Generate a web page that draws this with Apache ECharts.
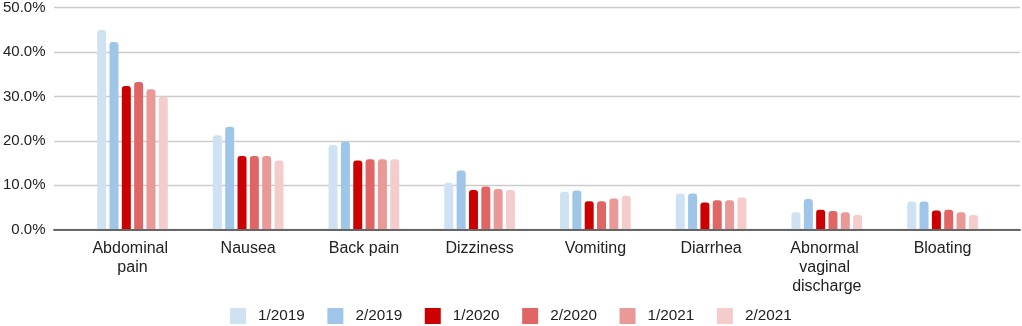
<!DOCTYPE html>
<html>
<head>
<meta charset="utf-8">
<script src="https://cdn.jsdelivr.net/npm/echarts@6/dist/echarts.min.js"></script>
<style>
html,body{margin:0;padding:0;background:#fff;}
#chart{width:1022px;height:326px;}
</style>
</head>
<body>
<div id="chart"></div>
<script>
const categories = ["Abdominal pain", "Nausea", "Back pain", "Dizziness", "Vomiting", "Diarrhea", "Abnormal vaginal discharge", "Bloating"];
const seriesNames = ["1/2019", "2/2019", "1/2020", "2/2020", "1/2021", "2/2021"];
const s2019_1 = [44.8, 21.2, 19.0, 10.5, 8.5, 8.1, 3.9, 6.3];
const s2019_2 = [42.1, 23.1, 19.7, 13.3, 8.8, 8.1, 6.9, 6.3];
const s2020_1 = [32.2, 16.5, 15.5, 8.9, 6.4, 6.1, 4.5, 4.3];
const s2020_2 = [33.1, 16.5, 15.8, 9.7, 6.4, 6.6, 4.2, 4.5];
const s2021_1 = [31.5, 16.5, 15.8, 9.1, 7.0, 6.6, 3.9, 3.9];
const s2021_2 = [29.8, 15.5, 15.8, 8.9, 7.6, 7.2, 3.3, 3.3];
const yTicks = [0, 10, 20, 30, 40, 50];
const colors = ["#cfe2f3", "#9fc5e8", "#cc0000", "#e06666", "#ea9999", "#f4cccc"];

const allSeries = [s2019_1, s2019_2, s2020_1, s2020_2, s2021_1, s2021_2];
const chart = echarts.init(document.getElementById('chart'), null, {renderer: 'canvas'});
const font = 'Liberation Sans, Arial, sans-serif';

chart.setOption({
  animation: false,
  color: colors,
  textStyle: {fontFamily: font},
  grid: [
    {left: 53.5, right: 2, top: 6.7, bottom: 96.3},
    {left: 74.6, right: 21.6, top: 6.7, bottom: 96.3}
  ],
  xAxis: [
    {gridIndex: 0, type: 'value', min: 0, max: 1,
     axisLine: {show: true, lineStyle: {color: '#666', width: 2}},
     axisTick: {show: false}, axisLabel: {show: false}, splitLine: {show: false}, z: 5},
    {gridIndex: 1, type: 'category', data: categories,
     axisLine: {show: false}, axisTick: {show: false},
     axisLabel: {fontSize: 16, color: '#222', margin: 9, lineHeight: 19, width: 92, overflow: 'break', interval: 0, fontFamily: font}}
  ],
  yAxis: [
    {gridIndex: 0, type: 'value', min: yTicks[0], max: yTicks[yTicks.length - 1], interval: 10,
     axisLine: {show: false}, axisTick: {show: false},
     axisLabel: {fontSize: 15, color: '#222', margin: 8.5, formatter: v => v.toFixed(1) + '%', fontFamily: font},
     splitLine: {lineStyle: {color: '#cccccc', width: 1.3}}},
    {gridIndex: 1, type: 'value', min: yTicks[0], max: yTicks[yTicks.length - 1], interval: 10, show: false}
  ],
  legend: {
    left: 225, top: 303,
    itemWidth: 16, itemHeight: 16, itemGap: 22.6,
    icon: 'rect',
    textStyle: {fontSize: 15.3, color: '#222', padding: [0, 0, 0, 7], fontFamily: font},
    data: seriesNames
  },
  series: seriesNames.map((name, i) => ({
    name: name,
    type: 'bar',
    xAxisIndex: 1, yAxisIndex: 1,
    data: allSeries[i],
    barWidth: 9,
    barGap: '37%',
    itemStyle: {borderRadius: [3, 3, 0, 0]}
  }))
});
</script>
</body>
</html>
